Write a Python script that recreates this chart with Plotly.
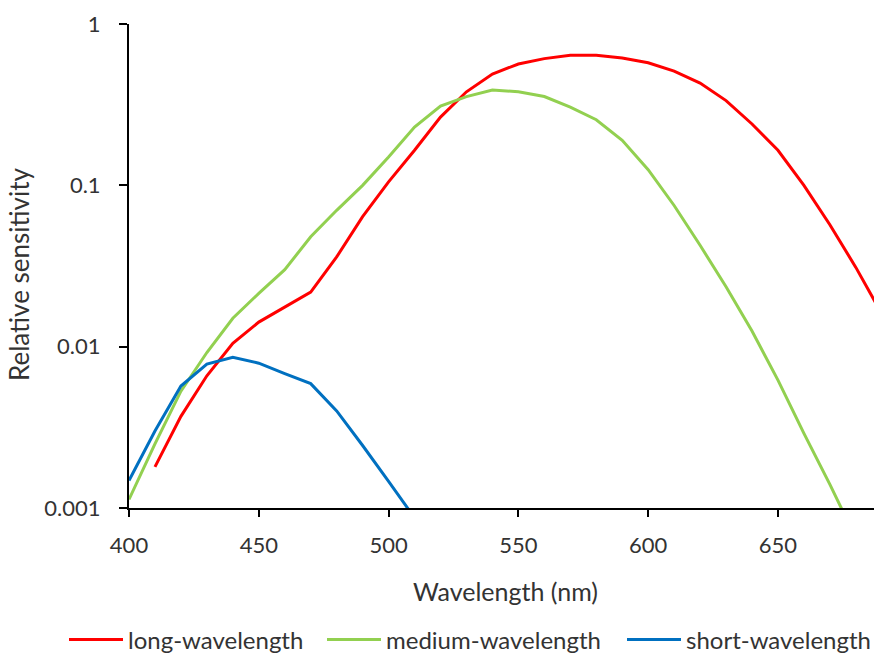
import plotly.graph_objects as go

# ---- data ----
wl_long = [410, 420, 430, 440, 450, 460, 470, 480, 490, 500, 510, 520, 530, 540, 550,
           560, 570, 580, 590, 600, 610, 620, 630, 640, 650, 660, 670, 680, 690]
long_vals = [0.0018, 0.0037, 0.0066, 0.0105, 0.0142, 0.0176, 0.0218, 0.036, 0.064, 0.105,
             0.165, 0.265, 0.38, 0.49, 0.565, 0.61, 0.64, 0.64, 0.615, 0.575, 0.51, 0.43,
             0.335, 0.24, 0.165, 0.1, 0.057, 0.031, 0.016]

wl_medium = [400, 410, 420, 430, 440, 450, 460, 470, 480, 490, 500, 510, 520, 530, 540,
             550, 560, 570, 580, 590, 600, 610, 620, 630, 640, 650, 660, 670, 680, 690]
medium_vals = [0.00113, 0.0025, 0.0053, 0.0092, 0.015, 0.0214, 0.030, 0.048, 0.07, 0.1,
               0.15, 0.23, 0.31, 0.355, 0.39, 0.38, 0.355, 0.305, 0.255, 0.19, 0.125,
               0.075, 0.0425, 0.0235, 0.0125, 0.0062, 0.0029, 0.0014, 0.00065, 0.0003]

wl_short = [400, 410, 420, 430, 440, 450, 460, 470, 480, 490, 500, 510]
short_vals = [0.00148, 0.003, 0.0057, 0.0078, 0.0086, 0.0079, 0.0068, 0.0059, 0.004,
              0.00244, 0.00146, 0.00087]

y_tickvals = [0.001, 0.01, 0.1, 1]
y_ticktext = ["0.001", "0.01", "0.1", "1"]
x_tickvals = [400, 450, 500, 550, 600, 650, 700]

FONT = "Lato"
TXT = "#333333"
W, H = 874, 653

fig = go.Figure()
fig.add_trace(go.Scatter(x=wl_long, y=long_vals, mode="lines", name="long-wavelength",
                         line=dict(color="#FF0000", width=3), legend="legend"))
fig.add_trace(go.Scatter(x=wl_medium, y=medium_vals, mode="lines", name="medium-wavelength",
                         line=dict(color="#92D050", width=3), legend="legend2"))
fig.add_trace(go.Scatter(x=wl_short, y=short_vals, mode="lines", name="short-wavelength",
                         line=dict(color="#0070C0", width=3), legend="legend3"))


def leg(px_left):
    return dict(orientation="h", xref="container", yref="container",
                x=px_left / W, xanchor="left", y=1 - 640 / H, yanchor="middle",
                font=dict(family=FONT, size=24, color=TXT),
                itemwidth=54, bgcolor="rgba(0,0,0,0)")


fig.update_layout(
    width=W, height=H,
    margin=dict(l=129, r=0, t=24, b=145),
    paper_bgcolor="white", plot_bgcolor="white",
    font=dict(family=FONT, size=22, color=TXT),
    showlegend=True,
    legend=leg(64), legend2=leg(322), legend3=leg(622),
    xaxis=dict(range=[400, 687], tickvals=x_tickvals, showgrid=False, zeroline=False,
               showline=True, linecolor="#000000", linewidth=2,
               ticks="outside", ticklen=7, tickwidth=2, tickcolor="#000000",
               tickfont=dict(family=FONT, size=22, color=TXT), ticklabelstandoff=10),
    yaxis=dict(type="log", range=[-3, 0], tickvals=y_tickvals, ticktext=y_ticktext,
               showgrid=False, zeroline=False, showline=True, linecolor="#000000",
               linewidth=2, ticks="outside", ticklen=8, tickwidth=2, tickcolor="#000000",
               tickfont=dict(family=FONT, size=22, color=TXT), ticklabelstandoff=14),
    annotations=[
        dict(text="Wavelength (nm)", xref="paper", yref="paper", x=(505 - 129) / 745,
             y=-(591 - 508) / 484, xanchor="center", yanchor="middle", showarrow=False,
             font=dict(family=FONT, size=25, color=TXT)),
        dict(text="Relative sensitivity", xref="paper", yref="paper", x=-(129 - 19) / 745,
             y=(508 - 275) / 484, xanchor="center", yanchor="middle", showarrow=False,
             textangle=-90, font=dict(family=FONT, size=26, color=TXT)),
    ],
)

fig.write_html("out.html")
